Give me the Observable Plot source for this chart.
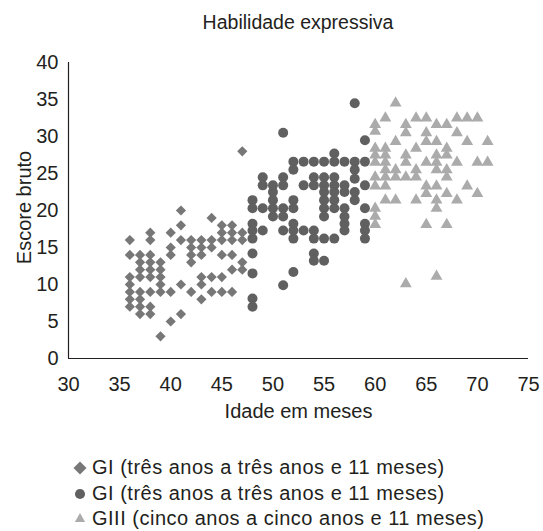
<!DOCTYPE html>
<html><head><meta charset="utf-8">
<script src="https://cdn.jsdelivr.net/npm/d3@7"></script>
<script src="https://cdn.jsdelivr.net/npm/@observablehq/plot@0.6"></script>
<style>
body{margin:0;background:#fff;font-family:"Liberation Sans",Arial,Helvetica,sans-serif;color:#231f20;}
#wrap{width:543px;height:531px;position:relative;overflow:hidden;background:#fff}
#title{position:absolute;left:53px;top:0;width:490px;height:45px;line-height:45px;text-align:center;font-size:19.5px}
#chart{position:absolute;left:0;top:45px}
#legend{position:absolute;left:0;top:455px;font-size:20px;letter-spacing:0.5px}
.row{height:25.5px;line-height:25.5px;white-space:nowrap;position:relative}
.row svg{position:absolute;left:71px;top:4px}
.row span{position:absolute;left:92px;top:0}
</style>
</head><body>
<div id="wrap">
  <div id="title"></div>
  <div id="chart"></div>
  <div id="legend"></div>
</div>
<script>
const chartTitle = "Habilidade expressiva";
const xLabel = "Idade em meses";
const yLabel = "Escore bruto";
const seriesNames = [
  "GI (três anos a três anos e 11 meses)",
  "GI (três anos a três anos e 11 meses)",
  "GIII (cinco anos a cinco anos e 11 meses)"
];
const xTicks = [30, 35, 40, 45, 50, 55, 60, 65, 70, 75];
const yTicks = [0, 5, 10, 15, 20, 25, 30, 35, 40];

// [idade, escore]
const gI = [
  [36,16],[36,14],[36,11],[36,10],[36,9],[36,8],[36,7],
  [37,14],[37,13],[37,12],[37,11],[37,9],[37,8],[37,7],[37,6],
  [38,17],[38,16],[38,14],[38,13],[38,12],[38,11],[38,9],[38,7],[38,6],
  [39,13],[39,12],[39,11],[39,10],[39,9],[39,3],
  [40,17],[40,15],[40,14],[40,9],[40,5],
  [41,20],[41,18],[41,16],[41,10],[41,6],
  [42,16],[42,15],[42,14],[42,13],[42,9],
  [43,16],[43,15],[43,14],[43,11],[43,10],[43,8],
  [44,19],[44,16],[44,15],[44,11],[44,9],
  [45,18],[45,17],[45,16],[45,14],[45,11],[45,9],
  [46,18],[46,17],[46,16],[46,14],[46,12],[46,9],
  [47,28],[47,17],[47,16],[47,13],[47,12]
];
const gII = [
  [58,34.5],[51,30.5],[59,29.5],[56,27.7],
  [52,26.6],[53,26.6],[54,26.6],[55,26.6],[56,26.6],[57,26.6],[58,26.6],[59,26.6],
  [52,25.5],[58,25.5],
  [49,24.5],[51,24.5],[54,24.5],[55,24.5],[56,24.5],[58,24.3],
  [49,23.4],[50,23.4],[51,23.4],[53,23.4],[54,23.4],[55,23.4],[56,23.4],[57,23.4],[59,23.4],
  [50,22.5],[55,22.5],[56,22.5],[57,22.5],[58,22.5],
  [48,21.4],[50,21.4],[52,21.4],[55,21.4],[56,21.4],[58,21.4],
  [48,20.3],[49,20.3],[50,20.3],[51,20.3],[52,20.3],[55,20.3],[56,20.3],[57,20.3],[59,20.3],
  [50,19.2],[51,19.2],[55,19.2],[57,19.2],
  [48,18.2],[52,18.2],[57,18.2],[59,18.2],
  [48,17.3],[49,17.3],[51,17.3],[52,17.3],[53,17.3],[54,17.3],[57,17.3],[59,17.3],
  [48,16.2],[52,16.2],[54,16.2],[55,16.2],[56,16.2],[59,16.2],
  [48,14.2],[54,14.2],
  [54,13.2],[55,13.2],
  [48,11.5],[52,11.7],
  [51,9.9],
  [48,8.1],[48,7]
];
const gIII = [
  [62,34.5],
  [61,32.5],[64,32.5],[65,32.5],[68,32.5],[69,32.5],[70,32.5],
  [60,31.6],[63,31.6],[66,31.6],[67,31.6],
  [60,30.7],[63,30.5],[65,30.5],[68,30.5],
  [62,29.3],[65,29.3],[66,29.3],[69,29.3],[71,29.3],
  [60,28.4],[61,28.4],[64,28.4],[67,28.4],
  [60,27.5],[61,27.5],[63,27.5],[66,27.5],[67,27.5],
  [60,26.5],[61,26.5],[63,26.5],[65,26.5],[66,26.5],[68,26.5],[70,26.5],[71,26.5],
  [61,25.5],[62,25.5],[64,25.5],[66,25.5],[67,25.5],
  [60,24.5],[61,24.5],[62,24.5],[63,24.5],[64,24.5],[67,24.5],
  [60,23.3],[61,23.3],[65,23.3],[66,23.3],[69,23.3],
  [65,22.3],[67,22.3],[70,22.3],
  [61,21.4],[62,21.4],[64,21.4],[66,21.4],[68,21.4],
  [60,20.3],[66,20.3],
  [60,19.2],
  [60,18.1],[65,18.1],[67,18.1],
  [66,11.1],
  [63,10.1]
];

const colors = ["#777777", "#606060", "#ababab"];
const symbols = ["diamond2", "circle", "triangle"];
const radii = [4.6, 5, 4.4];
const groups = [gI, gII, gIII];

document.getElementById("title").textContent = chartTitle;

const ink = "#231f20";
const chart = Plot.plot({
  width: 543,
  height: 390,
  marginLeft: 68,
  marginRight: 15,
  marginTop: 17,
  marginBottom: 77,
  style: {fontFamily: '"Liberation Sans", Arial, Helvetica, sans-serif', fontSize: "20px", color: ink, background: "white", overflow: "visible"},
  x: {domain: [30, 75], ticks: xTicks, tickSize: 0, tickPadding: 18, label: null},
  y: {domain: [0, 40], ticks: yTicks, tickSize: 0, tickPadding: 10, label: null},
  marks: [
    ...groups.map((g, i) => Plot.dot(g, {x: d => d[0], y: d => d[1], symbol: symbols[i], r: radii[i], fill: colors[i]})),
    Plot.ruleY([0], {stroke: ink, strokeWidth: 1.2}),
    Plot.ruleX([30], {stroke: ink, strokeWidth: 1.2}),
    Plot.text([xLabel], {text: d => d, frameAnchor: "bottom", textAnchor: "middle", lineAnchor: "middle", dy: 53, fill: ink, fontSize: 20}),
    Plot.text([yLabel], {text: d => d, frameAnchor: "left", textAnchor: "middle", lineAnchor: "middle", dx: -44, dy: -3, rotate: -90, fill: ink, fontSize: 20})
  ]
});
document.getElementById("chart").appendChild(chart);

// legend
const legendSizes = [108, 80, 45];
const leg = d3.select("#legend");
seriesNames.forEach((name, i) => {
  const row = leg.append("div").attr("class", "row");
  const svg = row.append("svg").attr("width", 18).attr("height", 18);
  const sym = [d3.symbolDiamond2, d3.symbolCircle, d3.symbolTriangle][i];
  svg.append("path")
    .attr("transform", "translate(9,9)")
    .attr("d", d3.symbol(sym, legendSizes[i])())
    .attr("fill", colors[i]);
  row.append("span").text(name);
});
</script>
</body></html>
